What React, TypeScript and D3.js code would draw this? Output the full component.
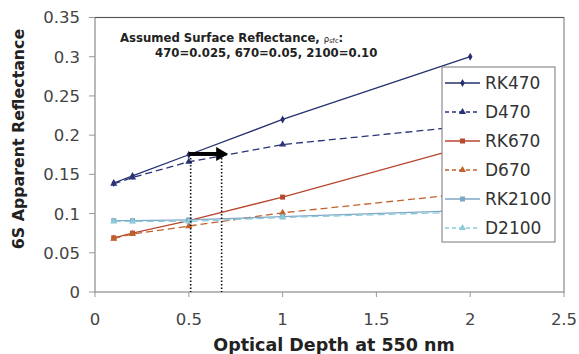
import React from "react";
import * as d3 from "d3";

const depths = [0.1, 0.2, 0.5, 1, 2];
const seriesNames = ["RK470", "D470", "RK670", "D670", "RK2100", "D2100"];
const rk470 = [0.139, 0.148, 0.175, 0.22, 0.3];
const d470 = [0.138, 0.146, 0.166, 0.188, 0.212];
const rk670 = [0.069, 0.075, 0.091, 0.121, 0.187];
const d670 = [0.068, 0.074, 0.084, 0.101, 0.126];
const rk2100 = [0.091, 0.091, 0.092, 0.096, 0.104];
const d2100 = [0.09, 0.09, 0.09, 0.095, 0.102];
const xTicks = [0, 0.5, 1, 1.5, 2, 2.5];
const yTicks = [0, 0.05, 0.1, 0.15, 0.2, 0.25, 0.3, 0.35];
const dottedX = [0.51, 0.675];
const arrowFrom = 0.5;
const arrowTo = 0.71;
const arrowY = 0.176;

const FONT = "DejaVu Sans, Verdana, sans-serif";

type S = { name: string; values: number[]; color: string; dash: string | null; marker: "dot" | "tri" | "sq" };

export default function App() {
  const x = d3.scaleLinear().domain([0, 2.5]).range([95, 564]);
  const y = d3.scaleLinear().domain([0, 0.35]).range([292, 17.5]);

  const series: S[] = [
    { name: seriesNames[0], values: rk470, color: "#26306e", dash: null, marker: "dot" },
    { name: seriesNames[1], values: d470, color: "#2a3278", dash: "7,4", marker: "tri" },
    { name: seriesNames[2], values: rk670, color: "#b8472f", dash: null, marker: "sq" },
    { name: seriesNames[3], values: d670, color: "#c0622c", dash: "7,4", marker: "tri" },
    { name: seriesNames[4], values: rk2100, color: "#7ea7c6", dash: null, marker: "sq" },
    { name: seriesNames[5], values: d2100, color: "#8ccbd9", dash: "7,4", marker: "tri" },
  ];

  const line = d3
    .line<number>()
    .x((_, i) => x(depths[i]))
    .y((v) => y(v));

  const marker = (m: S["marker"], cx: number, cy: number, color: string, key: string) => {
    if (m === "tri") {
      const p = d3.symbol().type(d3.symbolTriangle).size(22)();
      return <path key={key} d={p!} transform={`translate(${cx},${cy})`} fill={color} />;
    }
    if (m === "sq") {
      return <rect key={key} x={cx - 2.5} y={cy - 2.5} width={5} height={5} fill={color} />;
    }
    const p = d3.symbol().type(d3.symbolDiamond).size(18)();
    return <path key={key} d={p!} transform={`translate(${cx},${cy})`} fill={color} />;
  };

  const legX = 442;
  const legY = 67;
  const legW = 113;
  const legH = 175;
  const rowH = 29;

  return (
    <svg width={579} height={354} style={{ position: "absolute", left: 0, top: 0, background: "#fff" }}>
      <rect x={0} y={0} width={579} height={354} fill="#fff" />
      {/* plot frame */}
      <rect x={x(0)} y={y(0.35)} width={x(2.5) - x(0)} height={y(0) - y(0.35)} fill="none" stroke="#8a8a8a" strokeWidth={1.2} />
      <line x1={x(0)} x2={x(2.5)} y1={y(0.35)} y2={y(0.35)} stroke="#555" strokeWidth={1.2} />
      {/* y ticks */}
      {yTicks.map((t) => (
        <g key={"y" + t}>
          <line x1={x(0) - 6} x2={x(0)} y1={y(t)} y2={y(t)} stroke="#999" />
          <text x={80} y={y(t)} dy="0.36em" textAnchor="end" fontFamily={FONT} fontSize={16.5} fill="#444">
            {String(t)}
          </text>
        </g>
      ))}
      {/* x ticks */}
      {xTicks.map((t) => (
        <g key={"x" + t}>
          <line x1={x(t)} x2={x(t)} y1={y(0)} y2={y(0) + 5} stroke="#999" />
          <text x={x(t)} y={325} textAnchor="middle" fontFamily={FONT} fontSize={16.5} fill="#444">
            {String(t)}
          </text>
        </g>
      ))}
      {/* axis titles */}
      <text x={334} y={351} textAnchor="middle" fontFamily={FONT} fontWeight="bold" fontSize={17.5} fill="#222">
        Optical Depth at 550 nm
      </text>
      <text transform={`translate(24,139) rotate(-90)`} textAnchor="middle" fontFamily={FONT} fontWeight="bold" fontSize={15.8} fill="#222">
        6S Apparent Reflectance
      </text>
      {/* series */}
      {series.map((s) => (
        <g key={s.name}>
          <path d={line(s.values)!} fill="none" stroke={s.color} strokeWidth={1.3} strokeDasharray={s.dash ?? undefined} />
          {s.values.map((v, i) => marker(s.marker, x(depths[i]), y(v), s.color, s.name + i))}
        </g>
      ))}
      {/* dotted vertical lines */}
      {dottedX.map((d) => (
        <line key={"d" + d} x1={x(d)} x2={x(d)} y1={y(arrowY) + 4} y2={y(0)} stroke="#111" strokeWidth={1.6} strokeDasharray="1.5,2" />
      ))}
      {/* arrow */}
      <line x1={x(arrowFrom)} x2={x(arrowTo) - 9} y1={y(arrowY)} y2={y(arrowY)} stroke="#000" strokeWidth={4} />
      <path
        d={`M${x(arrowTo)},${y(arrowY)} L${x(arrowTo) - 12},${y(arrowY) - 7} L${x(arrowTo) - 12},${y(arrowY) + 7} Z`}
        fill="#000"
      />
      {/* annotation */}
      <text x={120} y={42} fontFamily={FONT} fontWeight="bold" fontSize={11.7} fill="#222">
        Assumed Surface Reflectance,{" "}
        <tspan fontWeight="normal" fontSize={8.5}>ρ</tspan>
        <tspan fontWeight="normal" fontSize={6.5} dy={1}>sfc</tspan>
        <tspan dy={-1}>:</tspan>
      </text>
      <text x={155} y={57} fontFamily={FONT} fontWeight="bold" fontSize={11.7} fill="#222">
        470=0.025, 670=0.05, 2100=0.10
      </text>
      {/* legend */}
      <rect x={legX} y={legY} width={legW} height={legH} fill="#fff" stroke="#777" strokeWidth={1} />
      {series.map((s, i) => {
        const cy = legY + 16 + i * rowH;
        return (
          <g key={"l" + s.name}>
            <line x1={legX + 3} x2={legX + 38} y1={cy} y2={cy} stroke={s.color} strokeWidth={1.3} strokeDasharray={s.dash ? "4,3" : undefined} />
            {marker(s.marker, legX + 20.5, cy, s.color, "lm" + i)}
            <text x={legX + 43} y={cy} dy="0.36em" fontFamily={FONT} fontSize={17} fill="#333">
              {s.name}
            </text>
          </g>
        );
      })}
    </svg>
  );
}
